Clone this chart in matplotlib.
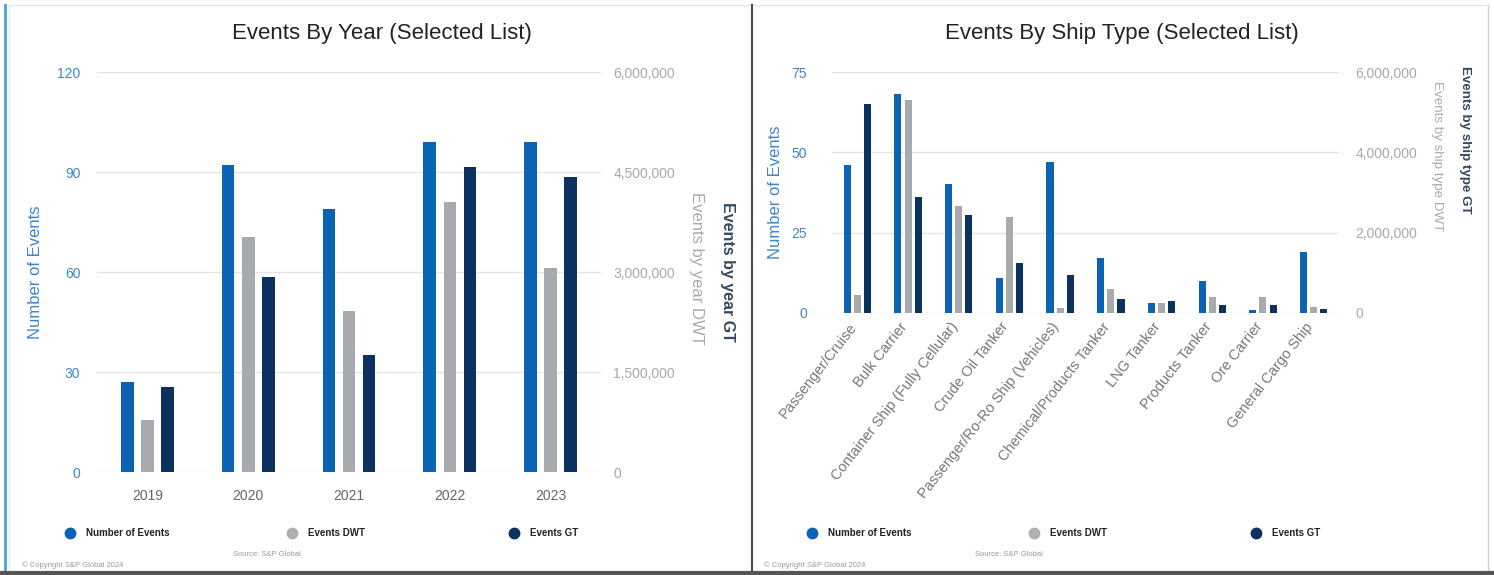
import matplotlib.pyplot as plt
from matplotlib.lines import Line2D
from matplotlib.ticker import FuncFormatter
from matplotlib.transforms import ScaledTranslation

plt.rcParams['font.family'] = ['Liberation Sans', 'DejaVu Sans']

# data
years = ['2019', '2020', '2021', '2022', '2023']
year_events = [27, 92, 79, 99, 99]
year_dwt = [786000, 3525000, 2415000, 4050000, 3060000]
year_gt = [1275000, 2925000, 1755000, 4575000, 4425000]

ship_types = ['Passenger/Cruise', 'Bulk Carrier', 'Container Ship (Fully Cellular)',
              'Crude Oil Tanker', 'Passenger/Ro-Ro Ship (Vehicles)',
              'Chemical/Products Tanker', 'LNG Tanker', 'Products Tanker',
              'Ore Carrier', 'General Cargo Ship']
ship_events = [46, 68, 40, 11, 47, 17, 3, 10, 1, 19]
ship_dwt = [446000, 5300000, 2660000, 2390000, 131000, 595000, 248000, 397000, 397000, 149000]
ship_gt = [5214000, 2876000, 2430000, 1240000, 942000, 347000, 298000, 198000, 198000, 99000]

C_NUM = '#0b63b6'
C_DWT = '#a7aaae'
C_GT = '#0d315e'
C_LTICK = '#3f86c5'
C_RTICK = '#a8a8a8'

W, H = 1494, 575
fig = plt.figure(figsize=(W / 100, H / 100), dpi=100)


def box(x0, y0, x1, y1):
    return [x0 / W, 1 - y1 / H, (x1 - x0) / W, (y1 - y0) / H]


comma = FuncFormatter(lambda v, p: f'{v:,.0f}')


def draw_panel(rect, cats, events, dwt, gt, ymax, yticks, rticks, width,
               dwt_label, gt_label, ylab_x, rlab_x, rlab_y, rsize, rotate, lpad, rpad):
    ax = fig.add_axes(box(*rect))
    ax2 = ax.twinx()
    x = list(range(len(cats)))
    ax.bar([i - 0.2 for i in x], events, width=width, color=C_NUM, zorder=3)
    ax2.bar(x, dwt, width=width, color=C_DWT, zorder=3)
    ax2.bar([i + 0.2 for i in x], gt, width=width, color=C_GT, zorder=3)

    ax.set_xlim(-0.5, len(cats) - 0.5)
    ax.set_ylim(0, ymax)
    ax2.set_ylim(0, 6000000)
    ax.set_yticks(yticks)
    ax2.set_yticks(rticks)
    ax2.yaxis.set_major_formatter(comma)
    ax.grid(axis='y', color='#e4e4e4', linewidth=1, zorder=0)
    for a in (ax, ax2):
        for s in a.spines.values():
            s.set_visible(False)
        a.patch.set_alpha(0)
    ax.tick_params(axis='y', length=0, pad=lpad, labelsize=10, labelcolor=C_LTICK)
    ax2.tick_params(axis='y', length=0, pad=rpad, labelsize=10, labelcolor=C_RTICK)
    ax.set_xticks(x)
    if rotate:
        ax.set_xticklabels(cats, rotation=52, ha='right', rotation_mode='anchor')
        ax.tick_params(axis='x', length=0, pad=5, labelsize=10.5, labelcolor='#777777')
        shift = ScaledTranslation(-9 / 100, 0, fig.dpi_scale_trans)
        for lbl in ax.get_xticklabels():
            lbl.set_transform(lbl.get_transform() + shift)
    else:
        ax.set_xticklabels(cats)
        ax.tick_params(axis='x', length=0, pad=12, labelsize=10, labelcolor='#666666')

    ax.text(ylab_x, 0.5, 'Number of Events', transform=ax.transAxes, rotation=90,
            ha='center', va='center', fontsize=12, color=C_LTICK)
    ax.text(rlab_x[0], rlab_y[0], dwt_label, transform=ax.transAxes, rotation=270,
            ha='center', va='center', fontsize=rsize[0], color='#aaaaaa')
    ax.text(rlab_x[1], rlab_y[1], gt_label, transform=ax.transAxes, rotation=270,
            ha='center', va='center', fontsize=rsize[1], color='#34495f', fontweight='bold')
    return ax


draw_panel((97, 72, 601, 472), years, year_events, year_dwt, year_gt,
           120, [0, 30, 60, 90, 120], [0, 1500000, 3000000, 4500000, 6000000], 0.125,
           'Events by year DWT', 'Events by year GT', -0.123,
           (1.19, 1.25), (0.51, 0.5), (12, 11.5), False, 12, 9)

draw_panel((832, 72, 1339, 313), ship_types, ship_events, ship_dwt, ship_gt,
           75, [0, 25, 50, 75], [0, 2000000, 4000000, 6000000], 0.14,
           'Events by ship type DWT', 'Events by ship type GT', -0.112,
           (1.193, 1.249), (0.65, 0.72), (9.6, 9.6), True, 18, 12)

# panel frame, titles, legends and notes in pixel coordinates
deco = fig.add_axes([0, 0, 1, 1], zorder=10)
deco.set_xlim(0, W)
deco.set_ylim(H, 0)
deco.axis('off')

deco.add_line(Line2D([10, 1488], [5, 5], color='#e6e6e6', lw=1))
deco.add_line(Line2D([1488, 1488], [5, 572], color='#d0d0d0', lw=1))
deco.add_line(Line2D([5, 5], [5, 572], color='#4aa0d8', lw=2))
deco.add_line(Line2D([9, 9], [5, 572], color='#d9ecf7', lw=1))
deco.add_line(Line2D([752, 752], [5, 572], color='#4a4a4a', lw=1.5))
deco.add_line(Line2D([0, W], [573, 573], color='#555555', lw=3))

deco.text(382, 33, 'Events By Year (Selected List)', ha='center', va='center',
          fontsize=16, color='#222222')
deco.text(1122, 33, 'Events By Ship Type (Selected List)', ha='center', va='center',
          fontsize=16, color='#222222')

legend_items = [('Number of Events', C_NUM), ('Events DWT', '#b0b0b0'), ('Events GT', C_GT)]
for x0 in (10, 752):
    for (name, col), dx in zip(legend_items, (60, 282, 504)):
        deco.plot(x0 + dx, 533, marker='o', markersize=7.5, color=col, linestyle='none')
        deco.text(x0 + dx + 16, 533, name, ha='left', va='center', fontsize=7,
                  fontweight='bold', color='#222222')
    deco.text(x0 + 223, 555, 'Source: S&P Global', ha='left', va='center',
              fontsize=5.5, color='#9a9a9a')
    deco.text(x0 + 12, 565, '\u00a9 Copyright S&P Global 2024', ha='left', va='center',
              fontsize=5.5, color='#9a9a9a')

fig.savefig('out.png', dpi=100)
